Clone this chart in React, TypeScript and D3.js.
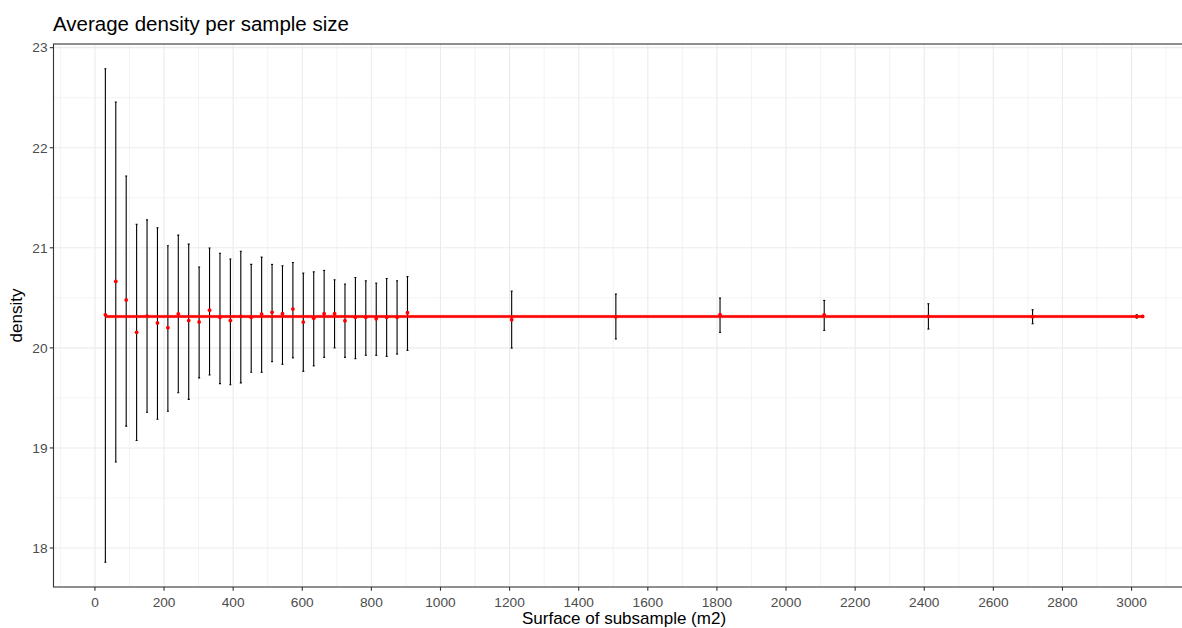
import React from "react";
import * as d3 from "d3";

const sizes = [30.15, 60.3, 90.45, 120.6, 150.75, 180.9, 211.05, 241.2, 271.35, 301.5, 331.65, 361.8, 391.95, 422.1, 452.25, 482.4, 512.55, 542.7, 572.85, 603, 633.15, 663.3, 693.45, 723.6, 753.75, 783.9, 814.05, 844.2, 874.35, 904.5, 1206, 1507.5, 1809, 2110.5, 2412, 2713.5, 3015, 3032];
const means = [20.33, 20.664, 20.479, 20.155, 20.318, 20.249, 20.202, 20.34, 20.273, 20.259, 20.377, 20.306, 20.273, 20.315, 20.305, 20.338, 20.355, 20.341, 20.388, 20.258, 20.295, 20.341, 20.341, 20.271, 20.305, 20.305, 20.291, 20.305, 20.305, 20.351, 20.281, 20.31, 20.331, 20.33, 20.314, 20.312, 20.314, 20.314];
const upper = [22.79, 22.457, 21.718, 21.236, 21.279, 21.2, 21.02, 21.127, 21.037, 20.808, 20.998, 20.946, 20.888, 20.965, 20.834, 20.907, 20.834, 20.82, 20.853, 20.747, 20.76, 20.774, 20.68, 20.637, 20.703, 20.67, 20.647, 20.693, 20.67, 20.713, 20.567, 20.538, 20.498, 20.474, 20.441, 20.381, 20.33, 20.316];
const lower = [17.857, 18.86, 19.218, 19.075, 19.357, 19.286, 19.367, 19.552, 19.485, 19.7, 19.729, 19.643, 19.631, 19.65, 19.756, 19.756, 19.862, 19.836, 19.9, 19.766, 19.82, 19.905, 20.0, 19.905, 19.892, 19.926, 19.926, 19.915, 19.938, 19.975, 19.998, 20.089, 20.155, 20.175, 20.188, 20.241, 20.298, 20.312];

const smoothX = [30.15, 3032];
const smoothY = [20.314, 20.314];
const smoothLo = [20.296, 20.296];
const smoothHi = [20.332, 20.332];

const xTicks = [0, 200, 400, 600, 800, 1000, 1200, 1400, 1600, 1800, 2000, 2200, 2400, 2600, 2800, 3000];
const xMinor = [-100, 100, 300, 500, 700, 900, 1100, 1300, 1500, 1700, 1900, 2100, 2300, 2500, 2700, 2900, 3100];
const yTicks = [18, 19, 20, 21, 22, 23];
const yMinor = [18.5, 19.5, 20.5, 21.5, 22.5];

const title = "Average density per sample size";
const xTitle = "Surface of subsample (m2)";
const yTitle = "density";

const W = 1182;
const H = 628;
const FONT = "'Liberation Sans', Arial, sans-serif";

export default function App() {
  const left = 53.5;
  const right = 1194.5;
  const top = 44;
  const bottom = 587;

  const xMin = d3.min(sizes)!;
  const xMax = d3.max(sizes)!;
  const xPad = (xMax - xMin) * 0.05;
  const yMinD = d3.min(lower)!;
  const yMaxD = d3.max(upper)!;
  const yPad = (yMaxD - yMinD) * 0.05;

  const x = d3.scaleLinear().domain([xMin - xPad, xMax + xPad]).range([left, right]);
  const y = d3.scaleLinear().domain([yMinD - yPad, yMaxD + yPad]).range([bottom, top]);

  const line = d3
    .line<number>()
    .x((_, i) => x(smoothX[i]))
    .y((_, i) => y(smoothY[i]));
  const band = d3
    .area<number>()
    .x((_, i) => x(smoothX[i]))
    .y0((_, i) => y(smoothLo[i]))
    .y1((_, i) => y(smoothHi[i]));

  const grid = "#EBEBEB";
  const dark = "#333333";
  const tickCol = "#4D4D4D";

  return (
    <svg
      width={W}
      height={H}
      style={{ position: "absolute", left: 0, top: 0, display: "block", background: "#fff" }}
      fontFamily={FONT}
    >
      <rect x={0} y={0} width={W} height={H} fill="#fff" />
      <defs>
        <clipPath id="panel">
          <rect x={left} y={top} width={right - left} height={bottom - top} />
        </clipPath>
      </defs>
      <g clipPath="url(#panel)">
        {xMinor.map((v) => (
          <line key={"xm" + v} x1={x(v)} x2={x(v)} y1={top} y2={bottom} stroke={grid} strokeWidth={0.6} />
        ))}
        {yMinor.map((v) => (
          <line key={"ym" + v} x1={left} x2={right} y1={y(v)} y2={y(v)} stroke={grid} strokeWidth={0.6} />
        ))}
        {xTicks.map((v) => (
          <line key={"xg" + v} x1={x(v)} x2={x(v)} y1={top} y2={bottom} stroke={grid} strokeWidth={1.1} />
        ))}
        {yTicks.map((v) => (
          <line key={"yg" + v} x1={left} x2={right} y1={y(v)} y2={y(v)} stroke={grid} strokeWidth={1.1} />
        ))}
        {sizes.map((s, i) => {
          const cx = x(s);
          return (
            <g key={"eb" + i} stroke="#000" strokeWidth={1.1}>
              <line x1={cx} x2={cx} y1={y(upper[i])} y2={y(lower[i])} />
              <line x1={cx - 1} x2={cx + 1} y1={y(upper[i])} y2={y(upper[i])} />
              <line x1={cx - 1} x2={cx + 1} y1={y(lower[i])} y2={y(lower[i])} />
            </g>
          );
        })}
        <path d={band(smoothX) || ""} fill="#FF0000" fillOpacity={0.25} />
        <path d={line(smoothX) || ""} fill="none" stroke="#FF0000" strokeWidth={2.6} />
        {sizes.map((s, i) => (
          <circle key={"pt" + i} cx={x(s)} cy={y(means[i])} r={1.9} fill="#FF0000" />
        ))}
      </g>
      <rect x={left} y={top} width={right - left} height={bottom - top} fill="none" stroke={dark} strokeWidth={1.1} />
      {xTicks.map((v) => (
        <g key={"xt" + v}>
          <line x1={x(v)} x2={x(v)} y1={bottom} y2={bottom + 3.7} stroke={dark} strokeWidth={1.1} />
          <text x={x(v)} y={607} textAnchor="middle" fontSize={13.7} fill={tickCol}>
            {v}
          </text>
        </g>
      ))}
      {yTicks.map((v) => (
        <g key={"yt" + v}>
          <line x1={left - 3.7} x2={left} y1={y(v)} y2={y(v)} stroke={dark} strokeWidth={1.1} />
          <text x={left - 6} y={y(v) + 4.8} textAnchor="end" fontSize={13.7} fill={tickCol}>
            {v}
          </text>
        </g>
      ))}
      <text x={53} y={31} fontSize={20.5} fill="#000">
        {title}
      </text>
      <text x={(left + right) / 2} y={623.5} textAnchor="middle" fontSize={17} fill="#000">
        {xTitle}
      </text>
      <text transform={`translate(22, ${(top + bottom) / 2}) rotate(-90)`} textAnchor="middle" fontSize={17} fill="#000">
        {yTitle}
      </text>
    </svg>
  );
}
